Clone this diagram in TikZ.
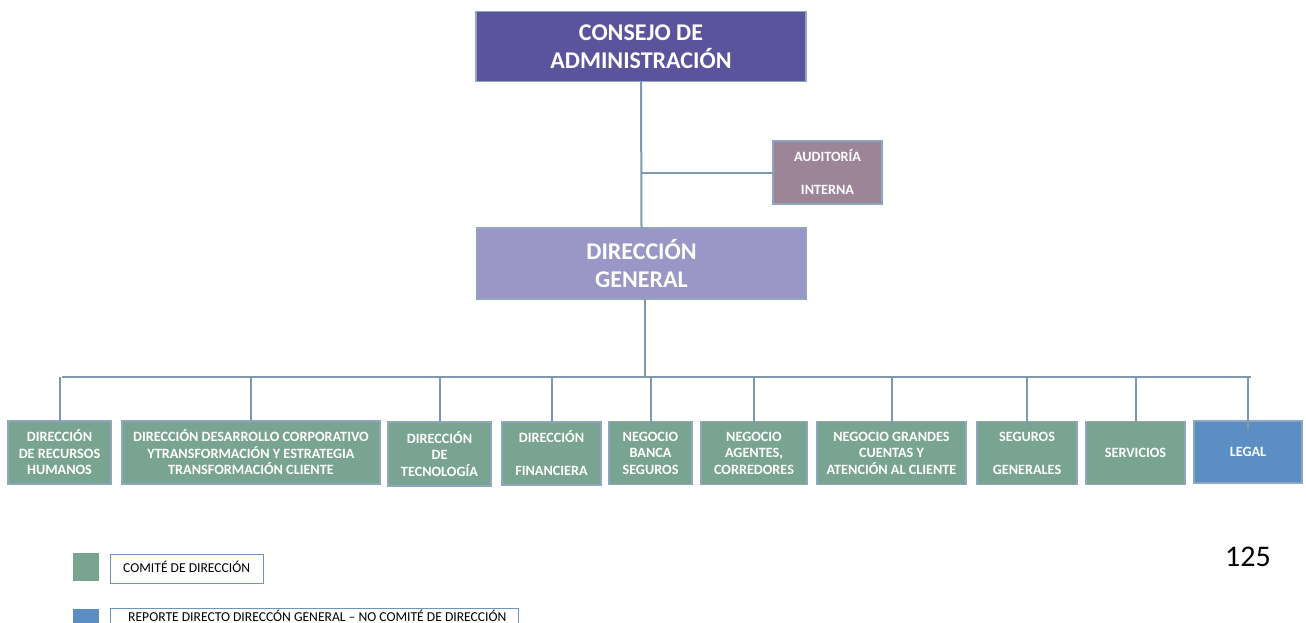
\documentclass[tikz,border=0pt]{standalone}
\usepackage{fontspec}
\setmainfont{Carlito}
\definecolor{consejo}{HTML}{5A549C}
\definecolor{general}{HTML}{9A96C5}
\definecolor{auditor}{HTML}{9C8597}
\definecolor{comite}{HTML}{79A491}
\definecolor{directo}{HTML}{5B8FC4}
\definecolor{boxline}{HTML}{8FA6BC}
\definecolor{conector}{HTML}{7E98AE}
\definecolor{leyline}{HTML}{6F92C4}
\tikzset{
  orgbox/.style={draw=boxline, line width=1.2pt, text=white, align=center,
    inner sep=0pt, outer sep=0pt, font=\bfseries\fontsize{14.2}{16.5}\selectfont},
  topbox/.style={orgbox, minimum width=330pt, minimum height=70pt,
    font=\bfseries\fontsize{24}{28}\selectfont},
  areabox/.style={orgbox, fill=comite, minimum height=63pt},
  linkline/.style={draw=conector, line width=2pt},
  keyline/.style={draw=leyline, line width=0.9pt, fill=white},
  keytext/.style={anchor=base west, inner sep=0pt, font=\fontsize{13.6}{15}\selectfont}
}
\begin{document}
\begin{tikzpicture}[x=1pt,y=-1pt]
  \useasboundingbox (0,0) rectangle (1306,623);

  \node[topbox, fill=consejo] (cons) at (641,46.5) {CONSEJO DE\\ADMINISTRACIÓN};
  \node[topbox, fill=general, minimum height=71pt] (dg) at (641.5,263.5) {DIRECCIÓN\\GENERAL};
  \node[orgbox, fill=auditor, minimum width=109pt, minimum height=63pt] (aud) at (827.5,172.5) {AUDITORÍA\\~\\INTERNA};

  \node[areabox, minimum width=103pt] (rrhh) at (59.5,452.5) {DIRECCIÓN\\DE RECURSOS\\HUMANOS};
  \node[areabox, minimum width=258pt] (descorp) at (251,452.5) {DIRECCIÓN DESARROLLO CORPORATIVO\\YTRANSFORMACIÓN Y ESTRATEGIA\\TRANSFORMACIÓN CLIENTE};
  \node[areabox, minimum width=103pt, minimum height=64pt] (tecno) at (439.5,454) {DIRECCIÓN\\DE\\TECNOLOGÍA};
  \node[areabox, minimum width=99pt] (finan) at (551.5,453.5) {DIRECCIÓN\\~\\FINANCIERA};
  \node[areabox, minimum width=83pt] (banca) at (650.5,453) {NEGOCIO\\BANCA\\SEGUROS};
  \node[areabox, minimum width=106pt] (agentes) at (754,453) {NEGOCIO\\AGENTES,\\CORREDORES};
  \node[areabox, minimum width=149pt] (grandes) at (891.5,453) {NEGOCIO GRANDES\\CUENTAS Y\\ATENCIÓN AL CLIENTE};
  \node[areabox, minimum width=100pt] (seggen) at (1027,453) {SEGUROS\\~\\GENERALES};
  \node[areabox, minimum width=99pt] (servicios) at (1135.5,453) {SERVICIOS};
  \node[areabox, fill=directo, minimum width=108pt, minimum height=62pt] (legal) at (1248,452) {LEGAL};

  \coordinate (busL) at (62,377);
  \coordinate (busR) at (1251,377);
  \draw[linkline] (cons.south) -- (dg.north);
  \draw[linkline] (aud.west) -- (aud.west -| cons.south);
  \draw[linkline] (busL) -- (busR);
  \draw[linkline] ([xshift=3.5pt]dg.south) -- ([xshift=3.5pt]dg.south |- busL);
  \foreach \area in {rrhh,descorp,tecno,finan,banca,agentes,grandes,seggen,servicios}
    \draw[linkline] (\area.north) -- (\area.north |- busL);
  \draw[linkline] ([yshift=-9pt]legal.north) -- (legal.north |- busL);

  \fill[comite] (73,553) rectangle (99,581);
  \draw[keyline] (110,554) rectangle (263,583);
  \node[keytext] (keyA) at (123,572) {COMITÉ DE DIRECCIÓN};
  \fill[directo] (73,609) rectangle (99,637);
  \draw[keyline] (110,608) rectangle (518,637);
  \node[keytext] (keyB) at (128,621) {REPORTE DIRECTO DIRECCÓN GENERAL – NO COMITÉ DE DIRECCIÓN};

  \node[font=\fontsize{30}{33}\selectfont] (pagenum) at (1248,557) {125};
\end{tikzpicture}
\end{document}
